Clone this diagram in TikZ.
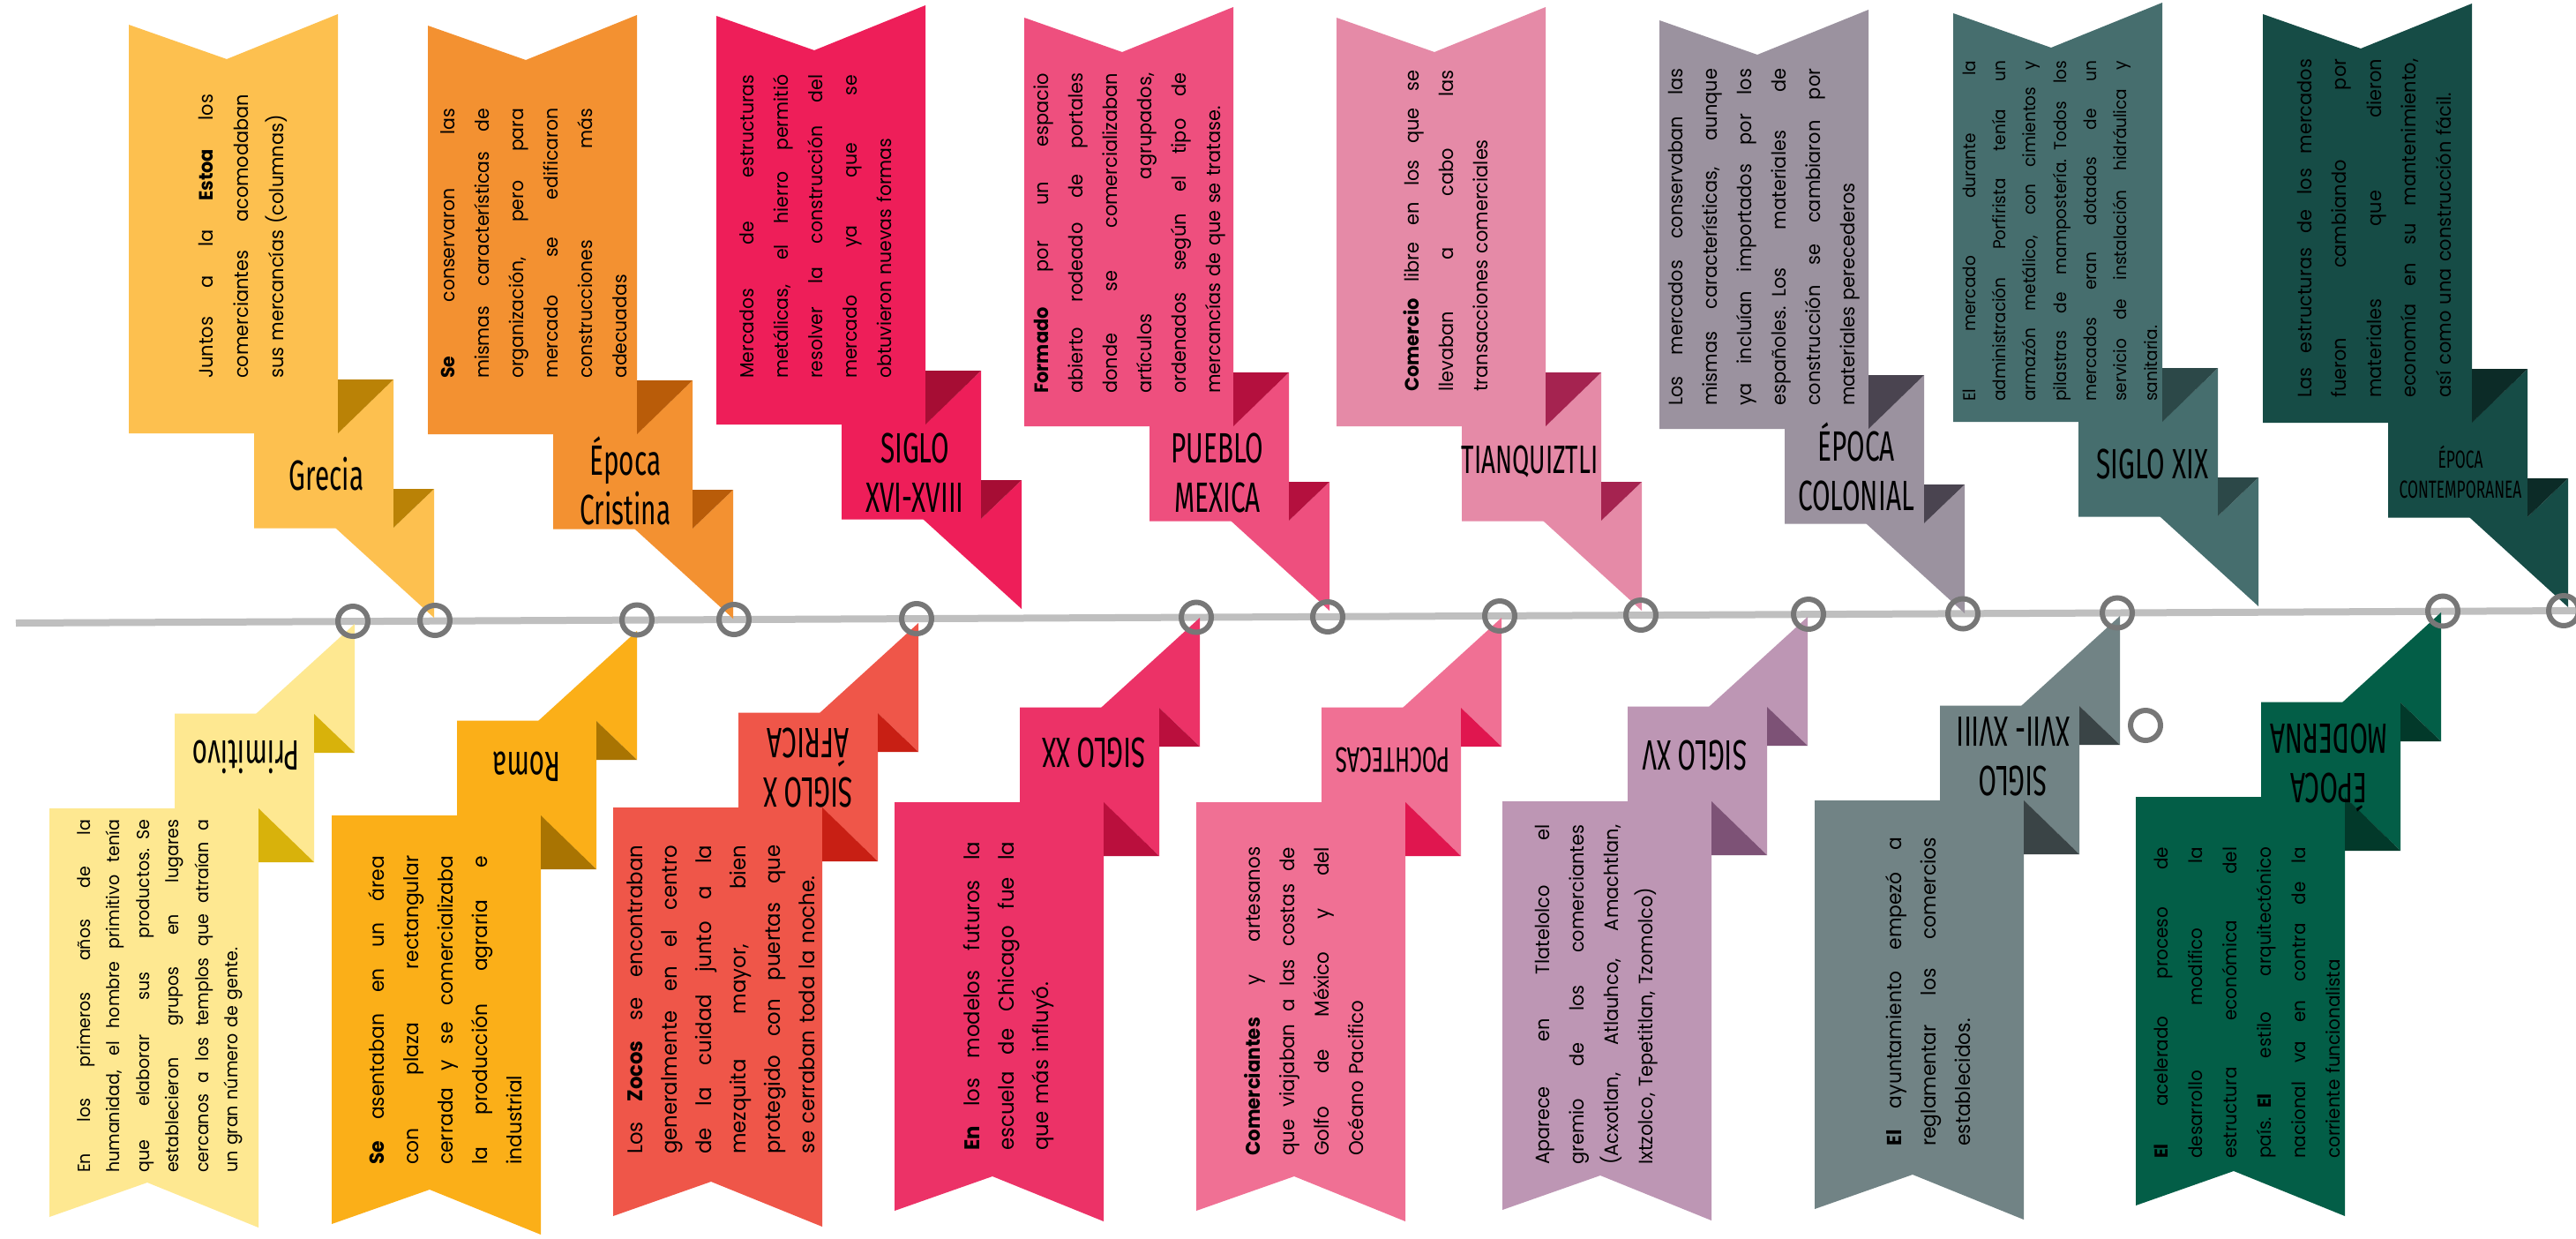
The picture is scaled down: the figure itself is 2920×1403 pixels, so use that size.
\documentclass[tikz,border=0pt]{standalone}
\usepackage{fontspec}
\setmainfont{Poppins}[FakeStretch=0.95]
\newfontfamily\labfont[FakeStretch=0.62]{Fira Sans}
\newlength\tw
\newcommand\JL[1]{\leavevmode\hbox to\tw{\spaceskip=.28em plus 1fil minus .1em\relax #1}}
\definecolor{linegray}{HTML}{BFBFBF}
\definecolor{ringgray}{HTML}{777777}
\definecolor{cGre}{HTML}{FDC04F}\definecolor{fGre}{HTML}{BA8206}
\definecolor{cCri}{HTML}{F39131}\definecolor{fCri}{HTML}{B95C09}
\definecolor{cXVI}{HTML}{EE1E59}\definecolor{fXVI}{HTML}{A60D34}
\definecolor{cMex}{HTML}{EE4F7E}\definecolor{fMex}{HTML}{B4103E}
\definecolor{cTia}{HTML}{E58AA7}\definecolor{fTia}{HTML}{A52350}
\definecolor{cCol}{HTML}{9B929F}\definecolor{fCol}{HTML}{4A4450}
\definecolor{cXIX}{HTML}{466E6E}\definecolor{fXIX}{HTML}{2C4848}
\definecolor{cCon}{HTML}{164C46}\definecolor{fCon}{HTML}{0C2B27}
\definecolor{cPri}{HTML}{FEE891}\definecolor{fPri}{HTML}{D8B20B}
\definecolor{cRom}{HTML}{FBAF18}\definecolor{fRom}{HTML}{A97402}
\definecolor{cAfr}{HTML}{EF5649}\definecolor{fAfr}{HTML}{C81F14}
\definecolor{cXX}{HTML}{EC3267}\definecolor{fXX}{HTML}{BA0F3D}
\definecolor{cPoc}{HTML}{F07094}\definecolor{fPoc}{HTML}{E0164F}
\definecolor{cXV}{HTML}{BD96B4}\definecolor{fXV}{HTML}{7D5276}
\definecolor{cXVII}{HTML}{718385}\definecolor{fXVII}{HTML}{3A4446}
\definecolor{cMod}{HTML}{035E47}\definecolor{fMod}{HTML}{02392A}
\tikzset{
  txt/.style={rotate=90, anchor=west, inner sep=0pt, align=left, text=black, text width=\tw},
  lab/.style={font=\labfont\fontsize{48}{56}\selectfont, align=center, inner sep=0pt, text=black},
  botlab/.style={lab, rotate=180},
  ring/.style={circle, draw=ringgray, line width=6pt, minimum size=34pt, inner sep=0pt},
}
\newcommand\banner[5]{%
  \begin{scope}[shift={(#1,#2)}, yscale=#3]
    \fill[#4] (-346,-672) -- (-235,-633) -- (-109,-684) -- (-109,-209) -- (-346,-209) -- cycle;
    \fill[#4] (-204,-209.5) -- (-109,-209.5) -- (-46,-270) -- (-46,-101.5) -- (-204,-101.5) -- cycle;
    \fill[#5] (-109,-270) -- (-46,-270) -- (-109,-209) -- cycle;
    \fill[#4] (-112,-102) -- (-46,-102) -- (0,-146) -- (0,0) -- cycle;
    \fill[#5] (-46,-146) -- (0,-146) -- (-46,-102) -- cycle;
  \end{scope}}
\begin{document}
\begin{tikzpicture}[x=1pt,y=-1pt]
\useasboundingbox (0,0) rectangle (2920,1403);
\fill[white] (0,0) rectangle (2920,1403);
% timeline
\coordinate (tl0) at (18,706);
\coordinate (tl1) at (2920,692);
\draw[linegray, line width=8pt] (tl0) -- (tl1);
% top banners
\banner{492}{700}{1}{cGre}{fGre}
\banner{831}{701}{1}{cCri}{fCri}
\banner{1158}{690}{1}{cXVI}{fXVI}
\banner{1507}{692}{1}{cMex}{fMex}
\banner{1861}{692}{1}{cTia}{fTia}
\banner{2227}{695}{1}{cCol}{fCol}
\banner{2560}{687}{1}{cXIX}{fXIX}
\banner{2911}{688}{1}{cCon}{fCon}
% bottom banners
\banner{402}{707}{-1}{cPri}{fPri}
\banner{722}{715}{-1}{cRom}{fRom}
\banner{1041}{706}{-1}{cAfr}{fAfr}
\banner{1360}{700}{-1}{cXX}{fXX}
\banner{1702}{700}{-1}{cPoc}{fPoc}
\banner{2049}{699}{-1}{cXV}{fXV}
\banner{2403}{698}{-1}{cXVII}{fXVII}
\banner{2767}{694}{-1}{cMod}{fMod}
% top labels
\node[lab] (l1) at (370,537) {Grecia};
\node[lab] (l2) at (709,545) {Época\\Cristina};
\node[lab] (l3) at (1037,536) {SIGLO\\XVI-XVIII};
\node[lab] (l4) at (1380,536) {PUEBLO\\MEXICA};
\node[lab, font=\labfont\fontsize{45}{52}\selectfont] (l5) at (1734,523) {TIANQUIZTLI};
\node[lab] (l6) at (2104,529) {ÉPOCA\\COLONIAL};
\node[lab] (l7) at (2440,526) {SIGLO XIX};
\node[lab, font=\labfont\fontsize{28}{34}\selectfont] (l8) at (2789,535) {ÉPOCA\\CONTEMPORANEA};
% bottom labels
\node[botlab] (m1) at (279,858) {Primitivo};
\node[botlab] (m2) at (597,869) {Roma};
\node[botlab] (m3) at (916,870) {SIGLO X\\ÁFRICA};
\node[botlab] (m4) at (1240,853) {SIGLO XX};
\node[botlab, font=\labfont\fontsize{40}{48}\selectfont] (m5) at (1579,861) {POCHTECAS};
\node[botlab] (m6) at (1921,856) {SIGLO XV};
\node[botlab] (m7) at (2282,857) {SIGLO\\XVII- XVIII};
\node[botlab] (m8) at (2640,870) {ÉPOCA\\MODERNA};
% top texts
\setlength\tw{322pt}
\node[txt, font=\fontsize{22}{40}\selectfont] (t1) at (275,429) {\JL{Juntos a la \textbf{Estoa} los}\\\JL{comerciantes acomodaban}\\\mbox{sus mercancías (columnas)}};
\setlength\tw{306pt}
\node[txt, font=\fontsize{21.5}{39}\selectfont] (t2) at (605,429) {\JL{\textbf{Se} conservaron las}\\\JL{mismas características de}\\\JL{organización, pero para}\\\JL{mercado se edificaron}\\\JL{construcciones más}\\\mbox{adecuadas}};
\setlength\tw{344pt}
\node[txt, font=\fontsize{21.5}{39}\selectfont] (t3) at (925,429) {\JL{Mercados de estructuras}\\\JL{metálicas, el hierro permitió}\\\JL{resolver la construcción del}\\\JL{mercado ya que se}\\\mbox{obtuvieron nuevas formas}};
\setlength\tw{363pt}
\node[txt, font=\fontsize{22}{39}\selectfont] (t4) at (1280,446) {\JL{\textbf{Formado} por un espacio}\\\JL{abierto rodeado de portales}\\\JL{donde se comercializaban}\\\JL{artículos agrupados,}\\\JL{ordenados según el tipo de}\\\mbox{mercancías de que se tratase.}};
\setlength\tw{364pt}
\node[txt, font=\fontsize{22}{39}\selectfont] (t5) at (1639,444) {\JL{\textbf{Comercio} libre en los que se}\\\JL{llevaban a cabo las}\\\mbox{transacciones comerciales}};
\setlength\tw{382pt}
\node[txt, font=\fontsize{22}{39}\selectfont] (t6) at (2000,460) {\JL{Los mercados conservaban las}\\\JL{mismas características, aunque}\\\JL{ya incluían importados por los}\\\JL{españoles. Los materiales de}\\\JL{construcción se cambiaron por}\\\mbox{materiales perecederos}};
\setlength\tw{386pt}
\node[txt, font=\fontsize{19.5}{34.3}\selectfont] (t7) at (2335,455) {\JL{El mercado durante la}\\\JL{administración Porfirista tenía un}\\\JL{armazón metálico, con cimientos y}\\\JL{pilastras de mampostería. Todos los}\\\JL{mercados eran dotados de un}\\\JL{servicio de instalación hidráulica y}\\\mbox{sanitaria.}};
\setlength\tw{384pt}
\node[txt, font=\fontsize{22}{39.5}\selectfont] (t8) at (2691,451) {\JL{Las estructuras de los mercados}\\\JL{fueron cambiando por}\\\JL{materiales que dieron}\\\JL{economía en su mantenimiento,}\\\mbox{así como una construcción fácil.}};
% bottom texts
\setlength\tw{400pt}
\node[txt, font=\fontsize{20}{33.4}\selectfont] (b1) at (181,1329) {\JL{En los primeros años de la}\\\JL{humanidad, el hombre primitivo tenía}\\\JL{que elaborar sus productos. Se}\\\JL{establecieron grupos en lugares}\\\JL{cercanos a los templos que atraían a}\\\mbox{un gran número de gente.}};
\setlength\tw{350pt}
\node[txt, font=\fontsize{23}{39}\selectfont] (b2) at (505,1320) {\JL{\textbf{Se} asentaban en un área}\\\JL{con plaza rectangular}\\\JL{cerrada y se comercializaba}\\\JL{la producción agraria e}\\\mbox{industrial}};
\node[txt, font=\fontsize{24}{39}\selectfont] (b3) at (817,1308) {\JL{Los \textbf{Zocos} se encontraban}\\\JL{generalmente en el centro}\\\JL{de la cuidad junto a la}\\\JL{mezquita mayor, bien}\\\JL{protegido con puertas que}\\\mbox{se cerraban toda la noche.}};
\node[txt, font=\fontsize{24}{39}\selectfont] (b4) at (1143,1304) {\JL{\textbf{En} los modelos futuros la}\\\JL{escuela de Chicago fue la}\\\mbox{que más influyó.}};
\node[txt, font=\fontsize{22.5}{39}\selectfont] (b5) at (1478,1310) {\JL{\textbf{Comerciantes} y artesanos}\\\JL{que viajaban a las costas de}\\\JL{Golfo de México y del}\\\mbox{Océano Pacifico}};
\setlength\tw{385pt}
\node[txt, font=\fontsize{22}{39}\selectfont] (b6) at (1810,1320) {\JL{Aparece en Tlatelolco el}\\\JL{gremio de los comerciantes}\\\JL{(Acxotlan, Atlauhco, Amachtlan,}\\\mbox{Ixtzolco, Tepetitlan, Tzomolco)}};
\setlength\tw{350pt}
\node[txt, font=\fontsize{23}{39}\selectfont] (b7) at (2186,1299) {\JL{\textbf{El} ayuntamiento empezó a}\\\JL{reglamentar los comercios}\\\mbox{establecidos.}};
\setlength\tw{353pt}
\node[txt, font=\fontsize{21}{39}\selectfont] (b8) at (2547,1313) {\JL{\textbf{El} acelerado proceso de}\\\JL{desarrollo modifico la}\\\JL{estructura económica del}\\\JL{país. \textbf{El} estilo arquitectónico}\\\JL{nacional va en contra de la}\\\mbox{corriente funcionalista}};
% rings
\node[ring] (r1) at (400,704) {};
\node[ring] (r2) at (493,703) {};
\node[ring] (r3) at (722,702.5) {};
\node[ring] (r4) at (832,702) {};
\node[ring] (r5) at (1039,701) {};
\node[ring] (r6) at (1356,699.5) {};
\node[ring] (r7) at (1505,699) {};
\node[ring] (r8) at (1700,698) {};
\node[ring] (r9) at (1860,697) {};
\node[ring] (r10) at (2050,696) {};
\node[ring] (r11) at (2225,695.5) {};
\node[ring] (r12) at (2400,694.5) {};
\node[ring] (r13) at (2769,692.5) {};
\node[ring] (r14) at (2906,692) {};
\node[ring] (r15) at (2432,822) {};
\end{tikzpicture}
\end{document}
